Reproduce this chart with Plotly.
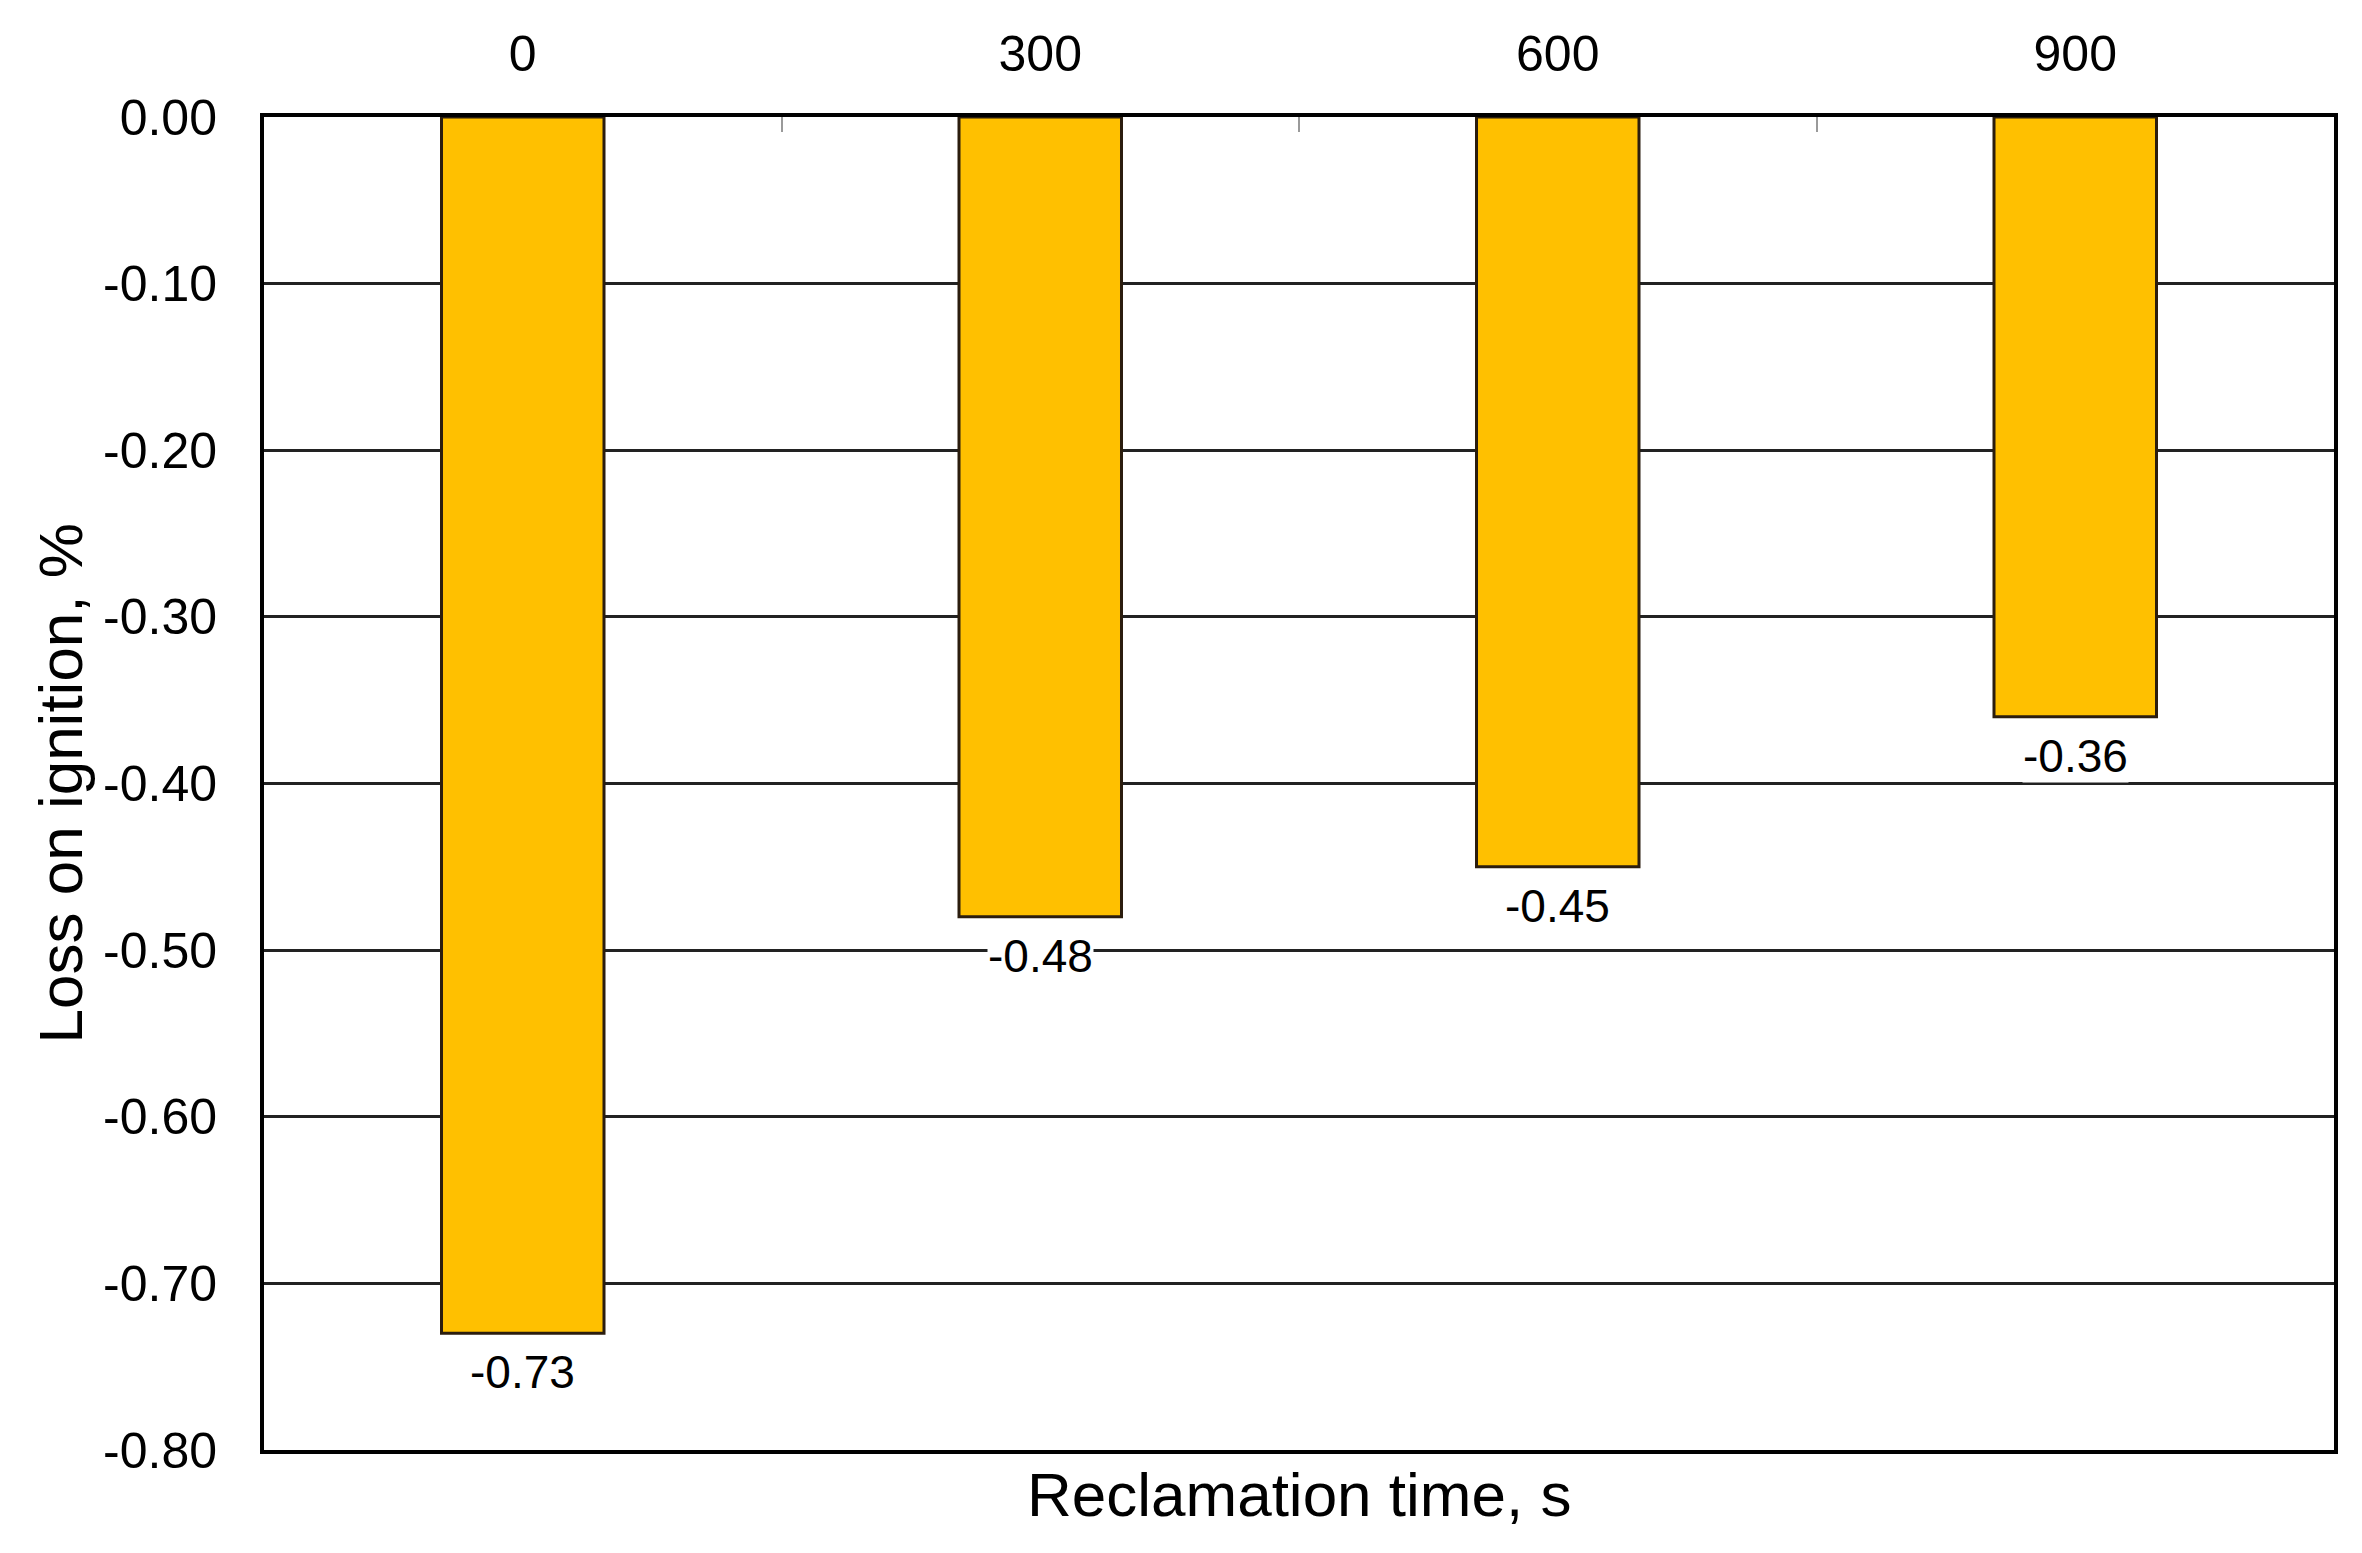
import plotly.graph_objects as go

categories = ["0", "300", "600", "900"]
values = [-0.73, -0.48, -0.45, -0.36]
labels = ["-0.73", "-0.48", "-0.45", "-0.36"]
y_ticks = [0.0, -0.1, -0.2, -0.3, -0.4, -0.5, -0.6, -0.7, -0.8]
y_ticktext = ["0.00", "-0.10", "-0.20", "-0.30", "-0.40", "-0.50", "-0.60", "-0.70", "-0.80"]

FONT = "Liberation Sans, Arial, sans-serif"

fig = go.Figure()
fig.add_trace(go.Bar(
    x=categories, y=values,
    marker=dict(color="#FFC000", line=dict(color="#2b1d0e", width=3)),
    width=0.314,
    hoverinfo="skip",
))

for i, (v, t) in enumerate(zip(values, labels)):
    fig.add_annotation(
        x=i, y=v, text=t, showarrow=False,
        yanchor="top", yshift=-12,
        bgcolor="white", borderpad=0,
        font=dict(family=FONT, size=46, color="black"),
    )

fig.add_annotation(
    xref="paper", yref="paper", x=0.5, y=0, yanchor="top", yshift=-8,
    text="Reclamation time, s", showarrow=False,
    font=dict(family=FONT, size=62, color="black"),
)
fig.add_annotation(
    xref="paper", yref="paper", x=0, y=0.5, xanchor="center", yanchor="middle",
    xshift=-204, textangle=-90,
    text="Loss on ignition, %", showarrow=False,
    font=dict(family=FONT, size=62, color="black"),
)

fig.update_layout(
    width=2362, height=1553,
    margin=dict(l=256, r=36, t=109, b=111),
    plot_bgcolor="white", paper_bgcolor="white",
    showlegend=False,
    font=dict(family=FONT, color="black"),
    xaxis=dict(
        side="top", type="category", automargin=False,
        tickson="boundaries", ticks="inside", ticklen=15, tickwidth=2, tickcolor="#9a9a9a",
        tickfont=dict(family=FONT, size=50, color="black"),
        ticklabelstandoff=22,
        showline=True, linecolor="black", linewidth=4, mirror=True,
        showgrid=False, zeroline=False,
        range=[-0.5, 3.5],
    ),
    yaxis=dict(
        range=[-0.8, 0], tickvals=y_ticks, ticktext=y_ticktext, automargin=False,
        tickfont=dict(family=FONT, size=50, color="black"),
        ticks="", ticklabelstandoff=33,
        showline=True, linecolor="black", linewidth=4, mirror=True,
        showgrid=True, gridcolor="#222222", gridwidth=3,
        zeroline=False,
    ),
)

fig.write_html("out.html")
